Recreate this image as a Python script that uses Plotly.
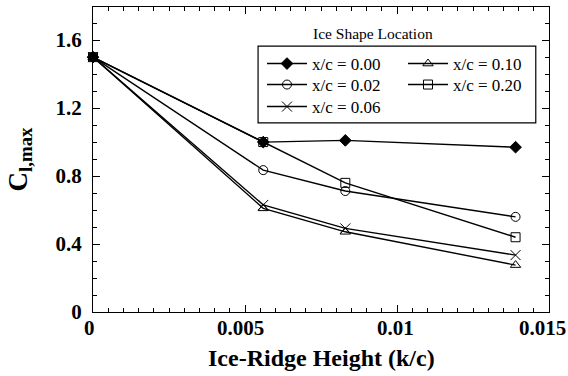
import plotly.graph_objects as go

# Ice-ridge height k/c and maximum lift coefficient for each ice shape location
ridge_height = [0.0, 0.0056, 0.0083, 0.0139]
series_labels = ["x/c = 0.00", "x/c = 0.02", "x/c = 0.06", "x/c = 0.10", "x/c = 0.20"]
cl_000 = [1.50, 1.00, 1.01, 0.97]
cl_002 = [1.50, 0.835, 0.712, 0.56]
cl_006 = [1.50, 0.63, 0.492, 0.335]
cl_010 = [1.50, 0.61, 0.472, 0.276]
cl_020 = [1.50, 1.00, 0.76, 0.44]

x_tick_vals = [0, 0.005, 0.01, 0.015]
x_tick_text = ["0", "0.005", "0.01", "0.015"]
y_tick_vals = [0, 0.4, 0.8, 1.2, 1.6]
y_tick_text = ["0", "0.4", "0.8", "1.2", "1.6"]

series_values = [cl_000, cl_002, cl_006, cl_010, cl_020]
symbols = ["diamond", "circle-open", "x-thin-open", "triangle-up-open", "square-open"]
sizes = [9, 9, 10, 9, 9]

FONT = "Liberation Serif"

# one small legend per entry so the two-column key can be laid out row by row
legend_ids = ["legend", "legend2", "legend3", "legend4", "legend5"]
legend_xy = [(0.3706, 0.8721), (0.3706, 0.8033), (0.3706, 0.7311),
             (0.6798, 0.8721), (0.6798, 0.8033)]

fig = go.Figure()
for label, vals, sym, sz, lg in zip(series_labels, series_values, symbols, sizes, legend_ids):
    fig.add_trace(go.Scatter(
        x=ridge_height, y=vals, name=label, mode="lines+markers",
        line=dict(color="black", width=1.4),
        marker=dict(symbol=sym, size=sz, color="black",
                    line=dict(color="black", width=1)),
        legend=lg, showlegend=True, cliponaxis=False,
    ))

axis_common = dict(
    showgrid=False, zeroline=False, showline=True, linecolor="black", linewidth=1,
    mirror="ticks", ticks="inside", ticklen=7, tickcolor="black", tickwidth=1,
    tickfont=dict(family=FONT, size=21, color="black", weight="bold"),
)

fig.update_xaxes(
    range=[0, 0.015], tickvals=x_tick_vals, showticklabels=False,
    minor=dict(dtick=0.0005, ticks="inside", ticklen=4, tickcolor="black", tickwidth=1),
    **axis_common,
)
fig.update_yaxes(
    range=[0, 1.795], tickvals=y_tick_vals, ticktext=y_tick_text,
    ticklabelstandoff=6,
    minor=dict(dtick=0.1, ticks="inside", ticklen=4, tickcolor="black", tickwidth=1),
    title=dict(text="C<sub>l,max</sub>", standoff=20,
               font=dict(family=FONT, size=27, color="black", weight="bold")),
    **axis_common,
)

# x tick labels placed under their ticks (end labels pulled inward to stay on the page)
x_label_shift = [-4, -5, -2, -7]
annotations = [
    dict(text=t, x=v, xref="x", y=0, yref="paper", xanchor="center", yanchor="middle",
         xshift=s, yshift=-16, showarrow=False,
         font=dict(family=FONT, size=21, color="black", weight="bold"))
    for v, t, s in zip(x_tick_vals, x_tick_text, x_label_shift)
]
annotations.append(dict(
    text="Ice-Ridge Height (k/c)", x=0.5, xref="paper", y=0, yref="paper",
    xanchor="center", yanchor="middle", yshift=-46, showarrow=False,
    font=dict(family=FONT, size=24, color="black", weight="bold")))
annotations.append(dict(
    text="Ice Shape Location", xref="paper", yref="paper",
    x=0.615, y=0.9115, xanchor="center", yanchor="middle", showarrow=False,
    font=dict(family=FONT, size=15.5, color="black")))

legend_layout = {}
for lg, (lx, ly) in zip(legend_ids, legend_xy):
    legend_layout[lg] = dict(
        x=lx, y=ly, xanchor="left", yanchor="top",
        font=dict(family=FONT, size=17, color="black"),
        bgcolor="rgba(0,0,0,0)", borderwidth=0, itemwidth=40,
    )

fig.update_layout(
    width=568, height=376,
    margin=dict(l=93, r=19, t=7, b=64),
    paper_bgcolor="white", plot_bgcolor="white",
    showlegend=True,
    shapes=[dict(type="rect", xref="paper", yref="paper",
                 x0=0.362, x1=0.971, y0=0.620, y1=0.872,
                 line=dict(color="black", width=1.2))],
    annotations=annotations,
    **legend_layout,
)

fig.write_html("out.html")
